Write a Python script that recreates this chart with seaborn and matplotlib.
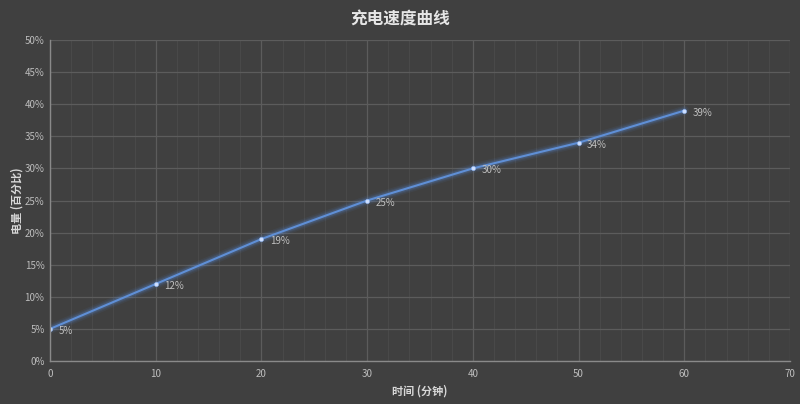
import matplotlib
matplotlib.use("Agg")
import matplotlib.pyplot as plt
import seaborn as sns
import pandas as pd
from matplotlib.ticker import MultipleLocator, FuncFormatter

minutes = [0, 10, 20, 30, 40, 50, 60]
battery = [5, 12, 19, 25, 30, 34, 39]
labels = [f"{v}%" for v in battery]

sns.set_theme(style="dark")
plt.rcParams['font.family'] = ['Noto Sans CJK SC', 'DejaVu Sans']

bg = "#404040"
fig = plt.figure(figsize=(8, 4.04), dpi=100, facecolor=bg)
ax = fig.add_axes([0.0625, 0.1064, 0.925, 0.7946])
ax.set_facecolor(bg)

df = pd.DataFrame({"t": minutes, "b": battery})
# glow
for lw, a in [(7, 0.07), (5, 0.1), (3.5, 0.18)]:
    sns.lineplot(data=df, x="t", y="b", ax=ax, color="#5a8fe0", lw=lw, alpha=a)
sns.lineplot(data=df, x="t", y="b", ax=ax, color="#5f8fd6", lw=1.5,
             marker="o", markersize=3, markerfacecolor="#cfe0ff",
             markeredgecolor="#8fb4f0", markeredgewidth=0.4)

for x, y, s in zip(minutes, battery, labels):
    ax.annotate(s, (x, y), xytext=(6, -1.5), textcoords="offset points",
                color="#c0c0c0", fontsize=7, va="center", ha="left")

ax.set_xlim(0, 70)
ax.set_ylim(0, 50)
ax.xaxis.set_major_locator(MultipleLocator(10))
ax.xaxis.set_minor_locator(MultipleLocator(2))
ax.yaxis.set_major_locator(MultipleLocator(5))
ax.yaxis.set_major_formatter(FuncFormatter(lambda v, p: f"{int(v)}%"))
ax.grid(which="major", color="#5c5c5c", lw=0.9)
ax.grid(which="minor", axis="x", color="#4a4a4a", lw=0.7)
ax.tick_params(which="both", length=0, colors="#bdbdbd", labelsize=7)
ax.tick_params(axis="x", pad=6)
ax.tick_params(axis="y", pad=4)
for side in ["top", "right"]:
    ax.spines[side].set_visible(False)
ax.spines["left"].set_color("#8a8a8a")
ax.spines["bottom"].set_color("#8a8a8a")
ax.spines["left"].set_linewidth(1)
ax.spines["bottom"].set_linewidth(1)

ax.set_xlabel("时间 (分钟)", color="#d8d8d8", fontsize=8, fontweight="bold", labelpad=4)
ax.set_ylabel("电量 (百分比)", color="#d8d8d8", fontsize=8, fontweight="bold", labelpad=1)
fig.suptitle("充电速度曲线", color="#e6e6e6", fontsize=12, fontweight="bold", y=0.975)

fig.savefig("out.png", dpi=100, facecolor=bg)
